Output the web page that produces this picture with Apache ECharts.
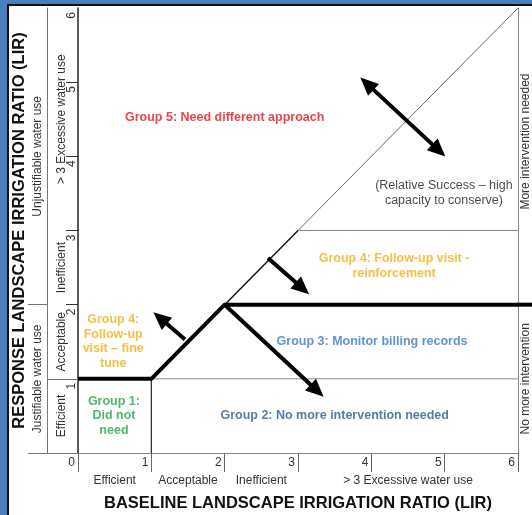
<!DOCTYPE html>
<html><head><meta charset="utf-8">
<script src="https://cdn.jsdelivr.net/npm/echarts@6/dist/echarts.min.js"></script>
<style>html,body{margin:0;padding:0;background:#fff}#c{width:532px;height:515px}</style>
</head><body><div id="c"></div>
<script>
// ---- data ----
const xTickLabels = ['0','1','2','3','4','5','6'];
const yTickLabels = ['0','1','2','3','4','5','6'];
const xBandValues = [0.5, 1.5, 2.5, 4.5];
const xBandLabels = ['Efficient','Acceptable','Inefficient','> 3 Excessive water use'];
const yBandValues = [0.5, 1.5, 2.5, 4.5];
const yBandLabels = ['Efficient','Acceptable','Inefficient','> 3 Excessive water use'];
const yGroupValues = [1, 4];
const yGroupLabels = ['Justifiable water use','Unjustifiable water use'];
const rightValues = [1, 4.2];
const rightLabels = ['No more intervention','More intervention needed'];

const thickBoundary = [[0,1],[1,1],[2,2],[6,2]];
const diagonalLower = [[2,2],[3,3]];
const diagonalUpper = [[3,3],[6,6]];
const lineY1 = [[1,1],[6,1]];
const lineY3 = [[3,3],[6,3]];
const lineX1 = [[1,0],[1,1]];

const arrowMain = [[2,2],[3.26,0.84]];
const arrowUpper = [[2.59,2.63],[3.06,2.22]];
const arrowLeft = [[1.46,1.53],[1.12,1.82]];
const arrowDouble = [[3.94,4.98],[4.92,4.08]];

const annoText = [
  'Group 5: Need different approach',
  '(Relative Success – high\ncapacity to conserve)',
  'Group 4: Follow-up visit -\nreinforcement',
  'Group 3: Monitor billing records',
  'Group 4:\nFollow-up\nvisit – fine\ntune',
  'Group 1:\nDid not\nneed',
  'Group 2: No more intervention needed'
];
const annoX = [2.0, 4.99, 4.31, 4.01, 0.48, 0.49, 3.5];
const annoY = [4.52, 3.5, 2.52, 1.5, 1.5, 0.5, 0.51];
const annoColor = ['#e3141c','#1a1a1a','#f0b015','#3a78c4','#f0b015','#22a846','#2b5b8e'];
const annoBold = [true, false, true, true, true, true, true];

// ---- chart ----
const FONT = '"Liberation Sans", Arial, sans-serif';
const chart = echarts.init(document.getElementById('c'), null, {renderer:'canvas'});

function lineSeries(data, color, width) {
  return {type:'line', data:data, symbol:'none', silent:true, clip:false,
    lineStyle:{color:color, width:width}, xAxisIndex:0, yAxisIndex:0, z:3};
}
function arrowSeries(pair, symbols) {
  return {type:'line', data:[], xAxisIndex:0, yAxisIndex:0, silent:true, z:5,
    markLine:{silent:true, animation:false, symbol:symbols, symbolSize:[16,18],
      label:{show:false}, lineStyle:{color:'#000', width:4, type:'solid'},
      data:[[{coord:pair[0]},{coord:pair[1]}]]}};
}

const frame = [
  {id:'f1', type:'rect', shape:{x:0, y:0, width:8, height:515}, style:{fill:'#4a7ebf'}, silent:true, z:100},
  {id:'f2', type:'rect', shape:{x:0, y:0, width:532, height:4}, style:{fill:'#4a7ebf'}, silent:true, z:100},
  {id:'f3', type:'line', shape:{x1:8, y1:5, x2:532, y2:5}, style:{stroke:'#111', lineWidth:2}, silent:true, z:100},
  {id:'f4', type:'line', shape:{x1:8, y1:4, x2:8, y2:515}, style:{stroke:'#111', lineWidth:2}, silent:true, z:100}
];

const option = {
  animation:false,
  textStyle:{fontFamily:FONT},
  grid:{left:78, right:14, top:8, bottom:62, outerBoundsMode:'none', containLabel:false},
  xAxis:[
    {type:'value', min:0, max:6, interval:1, position:'bottom',
     name:'BASELINE LANDSCAPE IRRIGATION RATIO (LIR)', nameLocation:'middle', nameGap:42, nameMoveOverlap:false,
     nameTextStyle:{fontSize:16.5, fontWeight:'bold', color:'#111', fontFamily:FONT},
     axisLine:{show:true, onZero:false, lineStyle:{color:'#888', width:1}},
     axisTick:{show:true, length:19, lineStyle:{color:'#666', width:1}},
     axisLabel:{show:true, margin:4, align:'right', verticalAlign:'top', padding:[0,3,0,0],
       fontSize:12, color:'#333', fontFamily:FONT, formatter:(v)=>xTickLabels[Math.round(v)]},
     splitLine:{show:false}},
    {type:'value', min:0, max:6, position:'bottom', offset:0,
     axisLine:{show:false, onZero:false}, axisTick:{show:false}, splitLine:{show:false},
     axisLabel:{show:true, customValues:xBandValues, margin:22, fontSize:12, color:'#333', fontFamily:FONT,
       formatter:(v)=>xBandLabels[xBandValues.indexOf(v)]}}
  ],
  yAxis:[
    {type:'value', min:0, max:6, interval:1, position:'left', offset:0,
     axisLine:{show:true, onZero:false, lineStyle:{color:'#222', width:1.5}},
     axisTick:{show:true, customValues:[1,2,3,4,5], length:12, lineStyle:{color:'#333', width:1}},
     axisLabel:{show:true, customValues:[1,2,3,4,5,6], rotate:90, margin:6, align:'right', verticalAlign:'middle',
       padding:[0,4,0,0], fontSize:12, color:'#333', fontFamily:FONT, formatter:(v)=>yTickLabels[Math.round(v)]},
     splitLine:{show:false}},
    {type:'value', min:0, max:6, position:'left', offset:31,
     axisLine:{show:true, onZero:false, lineStyle:{color:'#777', width:1}},
     axisTick:{show:true, customValues:[0,1], inside:true, length:31, lineStyle:{color:'#777', width:1}},
     axisLabel:{show:true, customValues:yBandValues, inside:true, rotate:90, margin:15, align:'center', verticalAlign:'middle',
       fontSize:12, color:'#333', fontFamily:FONT, formatter:(v)=>yBandLabels[yBandValues.indexOf(v)]},
     splitLine:{show:false}},
    {type:'value', min:0, max:6, position:'left', offset:50,
     name:'RESPONSE LANDSCAPE IRRIGATION RATIO (LIR)', nameLocation:'middle', nameGap:0, nameMoveOverlap:false,
     nameTextStyle:{fontSize:16.5, fontWeight:'bold', color:'#111', fontFamily:FONT},
     axisLine:{show:false, onZero:false},
     axisTick:{show:true, customValues:[0,2], inside:true, length:19, lineStyle:{color:'#777', width:1}},
     axisLabel:{show:true, customValues:yGroupValues, inside:true, rotate:90, margin:10, align:'center', verticalAlign:'middle',
       fontSize:12, color:'#333', fontFamily:FONT, formatter:(v)=>yGroupLabels[yGroupValues.indexOf(v)]},
     splitLine:{show:false}},
    {type:'value', min:0, max:6, position:'right', offset:0,
     axisLine:{show:true, onZero:false, lineStyle:{color:'#888', width:1}},
     axisTick:{show:false}, splitLine:{show:false},
     axisLabel:{show:true, customValues:rightValues, rotate:90, margin:8, align:'center', verticalAlign:'middle',
       fontSize:12, color:'#333', fontFamily:FONT, formatter:(v)=>rightLabels[rightValues.indexOf(v)]}}
  ],
  series:[
    lineSeries(lineY1, '#888', 1),
    lineSeries(lineY3, '#888', 1),
    lineSeries(diagonalUpper, '#666', 1),
    lineSeries(diagonalLower, '#111', 1.5),
    lineSeries(lineX1, '#222', 1.2),
    lineSeries(thickBoundary, '#000', 4),
    arrowSeries(arrowMain, ['none','triangle']),
    arrowSeries(arrowUpper, ['none','triangle']),
    arrowSeries(arrowLeft, ['none','triangle']),
    arrowSeries(arrowDouble, ['triangle','triangle']),
    {type:'scatter', xAxisIndex:0, yAxisIndex:0, symbolSize:1, silent:true, z:6,
     itemStyle:{color:'rgba(0,0,0,0)'},
     data: annoText.map((t,i)=>({value:[annoX[i], annoY[i]],
       label:{show:true, position:'inside', formatter:t, color:annoColor[i],
         fontWeight: annoBold[i] ? 'bold' : 'normal', fontSize:12.5,
         lineHeight: annoBold[i] ? 14.5 : 15, align:'center', verticalAlign:'middle', fontFamily:FONT}}))}
  ],
  graphic: frame
};
chart.setOption(option);

// the thick y=2 boundary runs on past the right edge of the plot to the page edge
const endPt = chart.convertToPixel({xAxisIndex:0, yAxisIndex:0}, thickBoundary[thickBoundary.length - 1]);
chart.setOption({graphic: frame.concat([
  {id:'ext', type:'line', shape:{x1:endPt[0] - 1, y1:endPt[1], x2:chart.getWidth(), y2:endPt[1]},
   style:{stroke:'#000', lineWidth:4}, silent:true, z:50}
])});
</script>
</body></html>
